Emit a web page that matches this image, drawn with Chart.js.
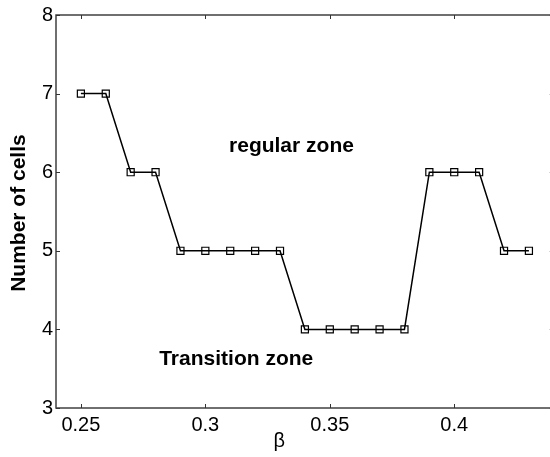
<!DOCTYPE html>
<html>
<head>
<meta charset="utf-8">
<script src="https://cdn.jsdelivr.net/npm/chart.js@4/dist/chart.umd.min.js"></script>
<style>
  html, body { margin: 0; padding: 0; background: #fff; overflow: hidden; }
  #wrap { width: 560px; height: 457px; }
</style>
</head>
<body>
<div id="wrap"><canvas id="c" width="560" height="457"></canvas></div>
<script>
const betas = [0.25, 0.26, 0.27, 0.28, 0.29, 0.30, 0.31, 0.32, 0.33, 0.34, 0.35, 0.36, 0.37, 0.38, 0.39, 0.40, 0.41, 0.42, 0.43];
const cells = [7, 7, 6, 6, 5, 5, 5, 5, 5, 4, 4, 4, 4, 4, 6, 6, 6, 5, 5];
const xTicks = [0.25, 0.3, 0.35, 0.4];
const yTicks = [3, 4, 5, 6, 7, 8];
const xLabel = 'β';
const yLabel = 'Number of cells';
const notes = [
  { text: 'regular zone', x: 0.3346, y: 6.33 },
  { text: 'Transition zone', x: 0.3124, y: 3.62 }
];

const FONT = "'Liberation Sans', Arial, Helvetica, sans-serif";

const framePlugin = {
  id: 'frame',
  afterDatasetsDraw(chart) {
    const ctx = chart.ctx;
    const a = chart.chartArea;
    const xs = chart.scales.x, ys = chart.scales.y;
    ctx.save();
    ctx.strokeStyle = '#404040';
    ctx.lineWidth = 1.5;
    ctx.strokeRect(a.left, a.top, a.right - a.left, a.bottom - a.top);
    ctx.lineWidth = 1;
    ctx.strokeStyle = '#333';
    const tl = 4;
    xTicks.forEach(v => {
      const px = Math.round(xs.getPixelForValue(v)) + 0.5;
      ctx.beginPath();
      ctx.moveTo(px, a.bottom); ctx.lineTo(px, a.bottom - tl);
      ctx.moveTo(px, a.top); ctx.lineTo(px, a.top + tl);
      ctx.stroke();
    });
    yTicks.forEach(v => {
      const py = Math.round(ys.getPixelForValue(v)) + 0.5;
      ctx.beginPath();
      ctx.moveTo(a.left, py); ctx.lineTo(a.left + tl, py);
      ctx.moveTo(a.right, py); ctx.lineTo(a.right - tl, py);
      ctx.stroke();
    });
    // annotations
    ctx.fillStyle = '#000';
    ctx.font = 'bold 21px ' + FONT;
    ctx.textAlign = 'center';
    ctx.textBaseline = 'middle';
    notes.forEach(n => {
      ctx.fillText(n.text, xs.getPixelForValue(n.x), ys.getPixelForValue(n.y));
    });
    // x label
    ctx.font = '20px ' + FONT;
    ctx.textBaseline = 'alphabetic';
    ctx.fillText(xLabel, xs.getPixelForValue(0.3297), 447);
    // y label
    ctx.save();
    ctx.translate(25, ys.getPixelForValue(5.48));
    ctx.rotate(-Math.PI / 2);
    ctx.font = 'bold 21px ' + FONT;
    ctx.textAlign = 'center';
    ctx.textBaseline = 'alphabetic';
    ctx.fillText(yLabel, 0, 0);
    ctx.restore();
    ctx.restore();
  }
};

new Chart(document.getElementById('c'), {
  type: 'line',
  data: {
    datasets: [{
      data: betas.map((b, i) => ({ x: b, y: cells[i] })),
      borderColor: '#000',
      borderWidth: 1.5,
      pointStyle: 'rect',
      pointRadius: 5,
      pointBorderColor: '#000',
      pointBorderWidth: 1.2,
      pointBackgroundColor: 'rgba(0,0,0,0)',
      tension: 0,
      fill: false
    }]
  },
  options: {
    responsive: false,
    animation: false,
    layout: { padding: { left: 0, right: 6, top: 15, bottom: 0 } },
    plugins: { legend: { display: false }, tooltip: { enabled: false } },
    scales: {
      x: {
        type: 'linear',
        min: 0.24,
        max: 0.44,
        afterBuildTicks(s) { s.ticks = xTicks.map(v => ({ value: v })); },
        afterFit(s) { s.height = 49; },
        grid: { display: false, drawTicks: false },
        border: { display: false },
        ticks: {
          color: '#000',
          padding: 5,
          maxRotation: 0,
          font: { family: FONT, size: 20 },
          callback: v => String(Number(v.toFixed(2)))
        }
      },
      y: {
        type: 'linear',
        min: 3,
        max: 8,
        afterBuildTicks(s) { s.ticks = yTicks.map(v => ({ value: v })); },
        afterFit(s) { s.width = 56; },
        grid: { display: false, drawTicks: false },
        border: { display: false },
        ticks: {
          color: '#000',
          padding: 3,
          font: { family: FONT, size: 20 },
          callback: v => String(v)
        }
      }
    }
  },
  plugins: [framePlugin]
});
</script>
</body>
</html>
